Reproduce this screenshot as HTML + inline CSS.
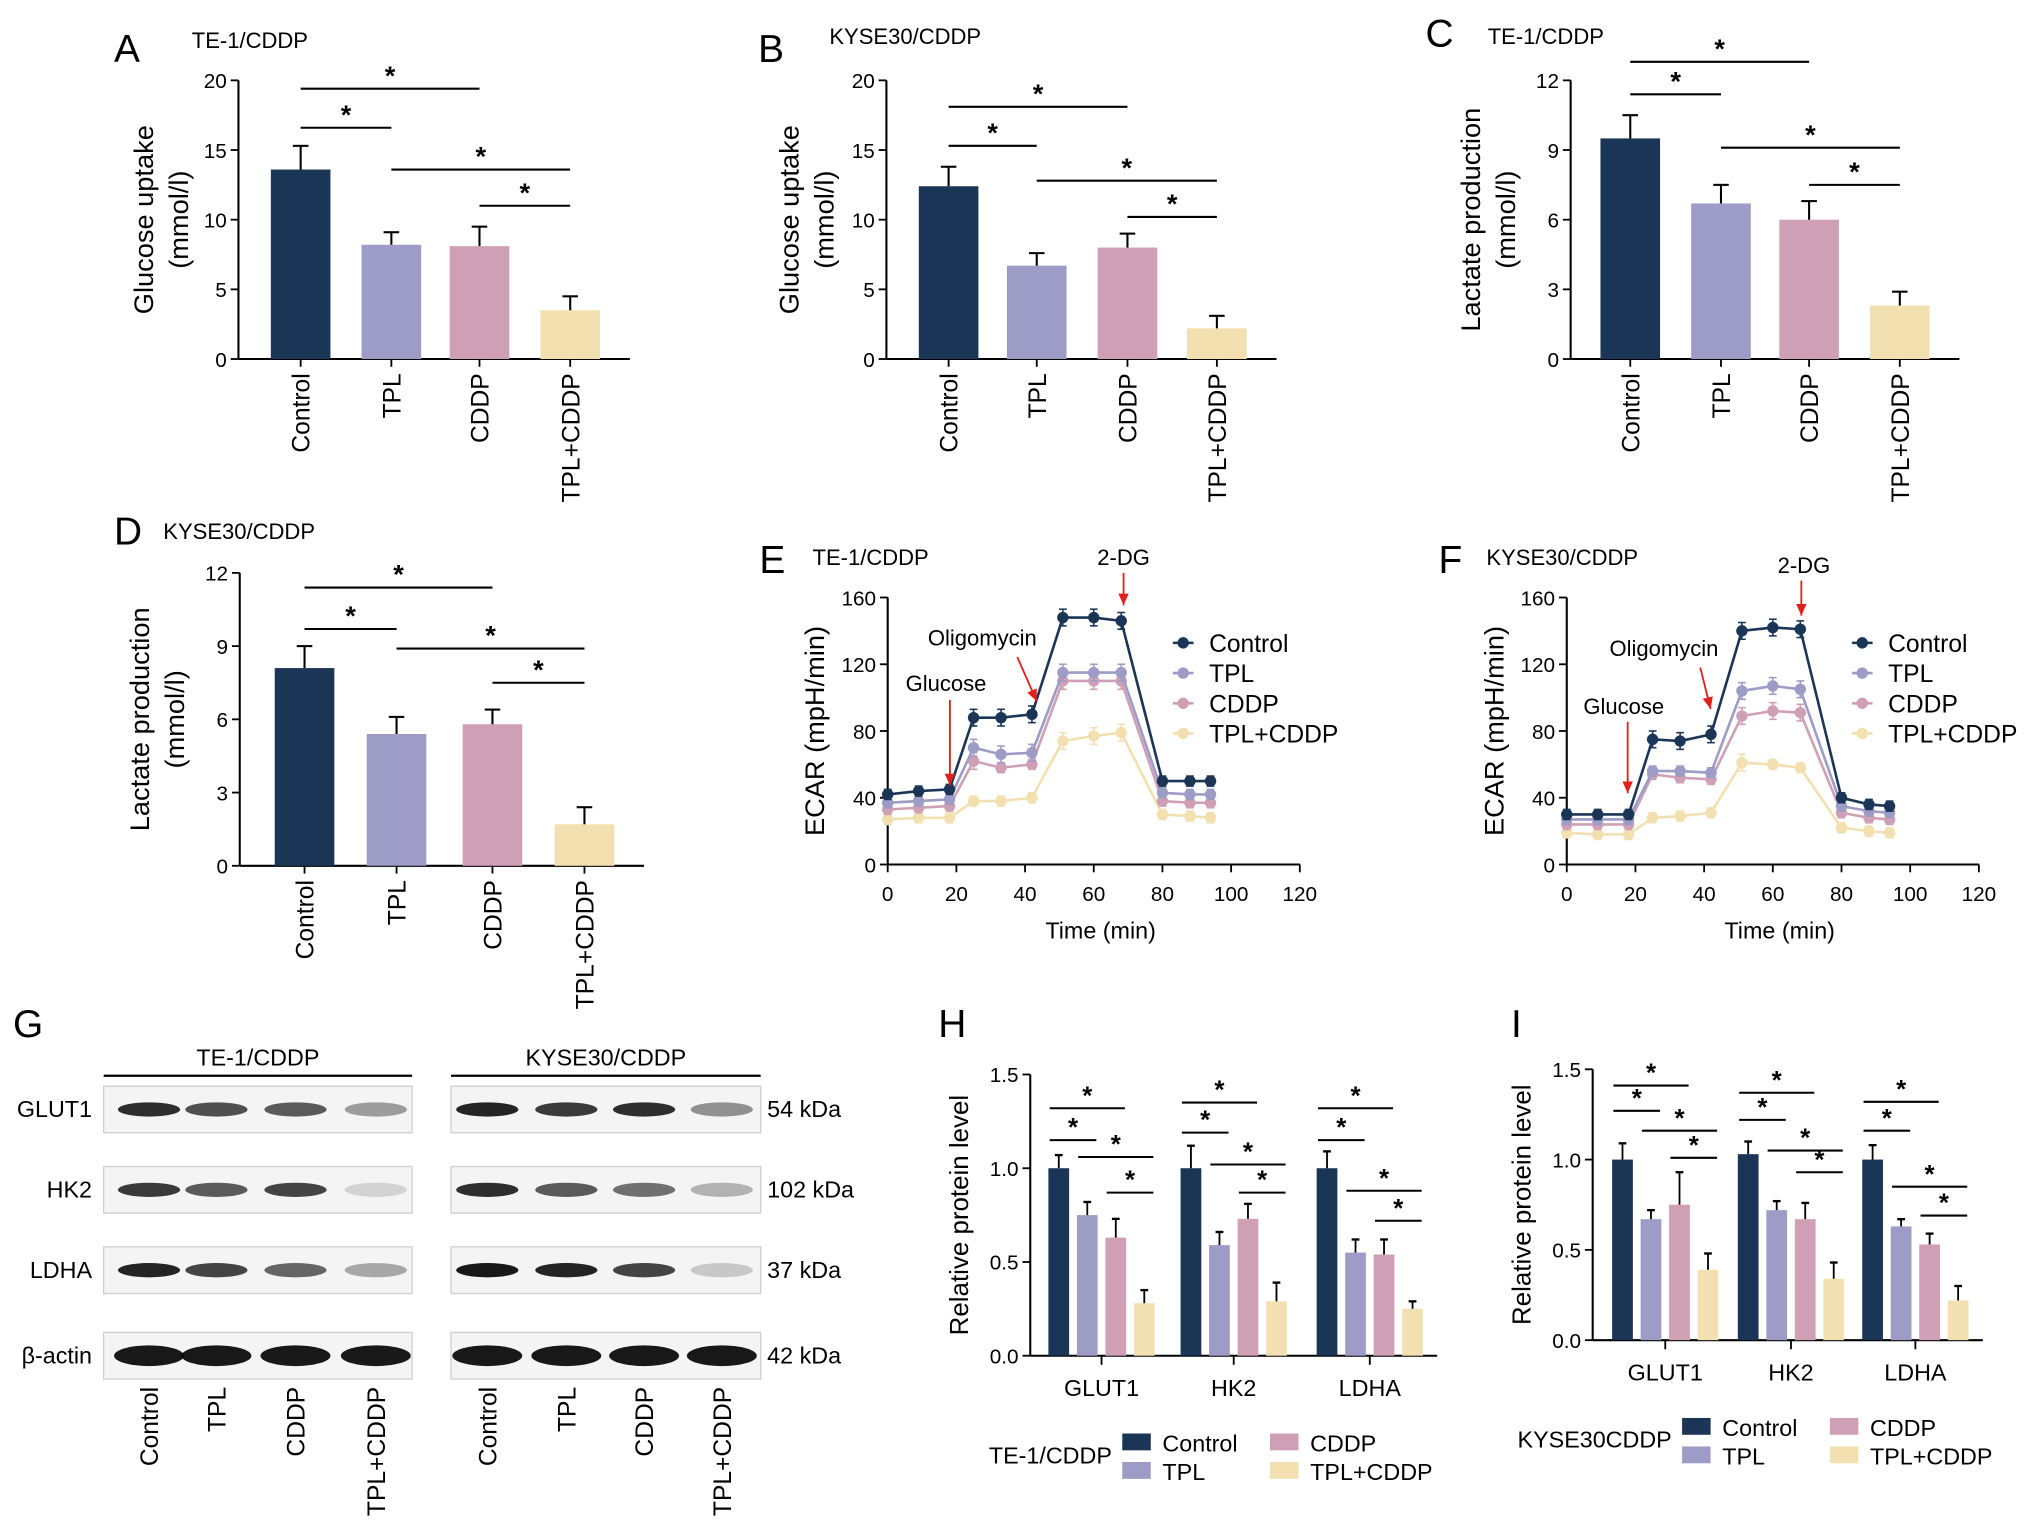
<!DOCTYPE html>
<html><head><meta charset="utf-8"><style>
html,body{margin:0;padding:0;background:#fff;}
svg{display:block;font-family:"Liberation Sans",Arial,sans-serif;}
</style></head><body>
<svg id="fig" width="2032" height="1532" viewBox="0 0 1568 1182" preserveAspectRatio="none" xmlns="http://www.w3.org/2000/svg"></svg>
<script>
const groups=["Control","TPL","CDDP","TPL+CDDP"];
const colors=["#1b3556","#9d9cc6","#cfa0b5","#f3e0b0"];
// Panel A
const aVals=[13.6,8.2,8.1,3.5];
const aErr=[1.7,0.9,1.4,1.0];
const aSig=[[0,2,19.4],[0,1,16.6],[1,3,13.6],[2,3,11.0]];
// Panel B
const bVals=[12.4,6.7,8.0,2.2];
const bErr=[1.4,0.9,1.0,0.9];
const bSig=[[0,2,18.1],[0,1,15.3],[1,3,12.8],[2,3,10.2]];
// Panel C
const cVals=[9.5,6.7,6.0,2.3];
const cErr=[1.0,0.8,0.8,0.6];
const cSig=[[0,2,12.8],[0,1,11.4],[1,3,9.1],[2,3,7.5]];
// Panel D
const dVals=[8.1,5.4,5.8,1.7];
const dErr=[0.9,0.7,0.6,0.7];
const dSig=[[0,2,11.4],[0,1,9.7],[1,3,8.9],[2,3,7.5]];
// Panels E/F
const times=[0,9,18,25,33,42,51,60,68,80,88,94];
const eControl=[42,44,45,88,88,90,148,148,146,50,50,50];
const eTPL=[37,38,39,70,66,67,115,115,115,43,42,42];
const eCDDP=[33,34,35,62,58,60,110,110,110,38,37,37];
const eCombo=[27,28,28,38,38,40,74,77,79,30,29,28];
const fControl=[30,30,30,75,74,78,140,142,141,40,36,35];
const fTPL=[27,27,27,56,56,55,104,107,105,35,32,31];
const fCDDP=[24,24,24,54,52,51,89,92,91,31,28,27];
const fCombo=[19,18,18,28,29,31,61,60,58,22,20,19];
const ecarTicks=[0,40,80,120,160];
const timeTicks=[0,20,40,60,80,100,120];
// Panels H/I
const proteins=["GLUT1","HK2","LDHA"];
const hVals=[[1.0,0.75,0.63,0.28],[1.0,0.59,0.73,0.29],[1.0,0.55,0.54,0.25]];
const hErr=[[0.07,0.07,0.1,0.07],[0.12,0.07,0.08,0.1],[0.09,0.07,0.08,0.04]];
const hSig=[[1.32,1.15,1.06,0.87],[1.35,1.19,1.02,0.87],[1.32,1.15,0.88,0.72]];
const iVals=[[1.0,0.67,0.75,0.39],[1.03,0.72,0.67,0.34],[1.0,0.63,0.53,0.22]];
const iErr=[[0.09,0.05,0.18,0.09],[0.07,0.05,0.09,0.09],[0.08,0.04,0.06,0.08]];
const iSig=[[1.41,1.27,1.16,1.01],[1.37,1.22,1.05,0.93],[1.32,1.16,0.85,0.69]];
const protTicks=[0,0.5,1.0,1.5];
// Panel G band intensities
const teBands=[[0.9,0.75,0.7,0.4],[0.85,0.7,0.8,0.15],[0.95,0.8,0.65,0.35],[1,1,1,1]];
const kyBands=[[0.95,0.85,0.9,0.45],[0.9,0.7,0.6,0.3],[1,0.95,0.8,0.2],[1,1,1,1]];
const blotRows=["GLUT1","HK2","LDHA","β-actin"];
const kda=["54 kDa","102 kDa","37 kDa","42 kDa"];

const NS="http://www.w3.org/2000/svg";
const svg=document.getElementById('fig');
function el(tag,attrs,parent,txt){const e=document.createElementNS(NS,tag);for(const k in attrs)e.setAttribute(k,attrs[k]);if(txt!==undefined)e.textContent=txt;(parent||svg).appendChild(e);return e;}
function line(x1,y1,x2,y2,p,w){return el('line',{x1,y1,x2,y2,stroke:'#000','stroke-width':w||1.4},p);}

function letter(t,x,y){const e=el('text',{x,y,'font-size':30},svg,t);

}
function title(t,x,y){const e=el('text',{x,y,'font-size':17},svg,t);

}

function barPanel(name,ax,y0,y1,max,ticks,centers,vals,errs,sig,l1,l2,lx){
  const g=el('g',{});
  
  
  const sy=v=>y0-(v/max)*(y0-y1);
  const xEnd=centers[3]+46;
  line(ax,y1,ax,y0,g,1.6);line(ax,y0,xEnd,y0,g,1.6);
  ticks.forEach(t=>{line(ax-6,sy(t),ax,sy(t),g,1.4);
    const tx=el('text',{x:ax-9,y:sy(t)+6,'font-size':16,'text-anchor':'end'},g,String(t));
    
    });
  vals.forEach((v,i)=>{
    const cx=centers[i],w=46;
    const r=el('rect',{x:cx-w/2,y:sy(v),width:w,height:y0-sy(v),fill:colors[i]},g);
    
    
    line(cx,sy(v),cx,sy(v+errs[i]),g,1.6);line(cx-6,sy(v+errs[i]),cx+6,sy(v+errs[i]),g,1.6);
    line(cx,y0,cx,y0+6,g,1.4);
    const t=el('text',{x:0,y:0,'font-size':19,'text-anchor':'end',transform:`translate(${cx+7},${y0+11}) rotate(-90)`},g,groups[i]);
    
    
  });
  sig.forEach(s=>{const a=centers[s[0]],b=centers[s[1]],yy=sy(s[2]);
    line(a,yy,b,yy,g,1.6);
    const st=el('text',{x:(a+b)/2,y:yy-3,'font-size':21,'font-weight':'bold','text-anchor':'middle'},g,'*');
    
    });
  const cy=(y0+y1)/2;
  const t1=el('text',{x:0,y:0,'font-size':21,'text-anchor':'middle',transform:`translate(${lx},${cy}) rotate(-90)`},g,l1);
  
  
  const t2=el('text',{x:0,y:0,'font-size':21,'text-anchor':'middle',transform:`translate(${lx+27},${cy}) rotate(-90)`},g,l2);
  
  
}
letter('A',88,48);title('TE-1/CDDP',148,37);
barPanel('panel-a-chart',184,277,62,20,[0,5,10,15,20],[232,302,370,440],aVals,aErr,aSig,'Glucose uptake','(mmol/l)',118);
letter('B',585,48);title('KYSE30/CDDP',640,34);
barPanel('panel-b-chart',684,277,62,20,[0,5,10,15,20],[732,800,870,939],bVals,bErr,bSig,'Glucose uptake','(mmol/l)',616);
letter('C',1100,36);title('TE-1/CDDP',1148,34);
barPanel('panel-c-chart',1212,277,62,12,[0,3,6,9,12],[1258,1328,1396,1466],cVals,cErr,cSig,'Lactate production','(mmol/l)',1142);
letter('D',88,420);title('KYSE30/CDDP',126,416);
barPanel('panel-d-chart',185,668,442,12,[0,3,6,9,12],[235,306,380,451],dVals,dErr,dSig,'Lactate production','(mmol/l)',115);

function ecarPanel(name,ax,series,arrows){
  const g=el('g',{});
  
  
  const y0=667,y1=461,px=2.65;
  const sx=t=>ax+t*px, sy=v=>y0-v/160*(y0-y1);
  line(ax,y1,ax,y0,g,1.6);line(ax,y0,sx(120),y0,g,1.6);
  ecarTicks.forEach(t=>{line(ax-6,sy(t),ax,sy(t),g);
    const tx=el('text',{x:ax-9,y:sy(t)+6,'font-size':16,'text-anchor':'end'},g,String(t));
    
    });
  timeTicks.forEach(t=>{line(sx(t),y0,sx(t),y0+6,g);
    const tx=el('text',{x:sx(t),y:y0+28,'font-size':16,'text-anchor':'middle'},g,String(t));
    
    });
  const xl=el('text',{x:sx(62),y:724,'font-size':18,'text-anchor':'middle'},g,'Time (min)');
  
  
  const yl=el('text',{x:0,y:0,'font-size':21,'text-anchor':'middle',transform:`translate(${ax-49},564) rotate(-90)`},g,'ECAR (mpH/min)');
  
  
  series.slice().reverse().forEach((s,ri)=>{const i=3-ri;
    const pts=times.map((t,k)=>sx(t)+','+sy(s[k])).join(' ');
    const pl=el('polyline',{points:pts,fill:'none',stroke:colors[i],'stroke-width':2},g);
    
    
    times.forEach((t,k)=>{const ey=(s[k]>60?5:3);
      line(sx(t),sy(s[k]-ey),sx(t),sy(s[k]+ey),g,1.2).setAttribute('stroke',colors[i]);
      line(sx(t)-3,sy(s[k]+ey),sx(t)+3,sy(s[k]+ey),g,1.2).setAttribute('stroke',colors[i]);
      line(sx(t)-3,sy(s[k]-ey),sx(t)+3,sy(s[k]-ey),g,1.2).setAttribute('stroke',colors[i]);
      const c=el('circle',{cx:sx(t),cy:sy(s[k]),r:4.4,fill:colors[i]},g);
      
      });
  });
  const lx=ax+228;
  groups.forEach((gname,i)=>{const yy=496+i*23.3;
    el('line',{x1:lx-8,y1:yy,x2:lx+8,y2:yy,stroke:colors[i],'stroke-width':2},g);
    el('circle',{cx:lx,cy:yy,r:4.4,fill:colors[i]},g);
    const t=el('text',{x:lx+20,y:yy+7,'font-size':19},g,gname);
    
    });
  arrows.forEach(a=>{
    const t=el('text',{x:a[0],y:a[1],'font-size':17,'text-anchor':'middle'},g,a[2]);
    
    
    el('line',{x1:a[3],y1:a[4],x2:a[5],y2:a[6],stroke:'#e0201b','stroke-width':1.4},g);
    const ang=Math.atan2(a[6]-a[4],a[5]-a[3]);const L=9,W=4;
    const bx=a[5]-L*Math.cos(ang),by=a[6]-L*Math.sin(ang);
    el('polygon',{points:`${a[5]},${a[6]} ${bx-W*Math.sin(ang)},${by+W*Math.cos(ang)} ${bx+W*Math.sin(ang)},${by-W*Math.cos(ang)}`,fill:'#e0201b'},g);
  });
}
letter('E',586,442);title('TE-1/CDDP',627,436);
ecarPanel('panel-e-chart',685,[eControl,eTPL,eCDDP,eCombo],
 [[730,533,'Glucose',733,540,733,606],[758,498,'Oligomycin',785,507,800,541],[867,436,'2-DG',867,442,867,467]]);
letter('F',1110,442);title('KYSE30/CDDP',1147,436);
ecarPanel('panel-f-chart',1209,[fControl,fTPL,fCDDP,fCombo],
 [[1253,551,'Glucose',1256,557,1256,612],[1284,506,'Oligomycin',1312,515,1320,547],[1392,442,'2-DG',1390,448,1390,475]]);

// Panel G
letter('G',10,800);
(function(){
  const g=el('g',{});
  
  
  const blocks=[[80,318,'TE-1/CDDP',teBands,[115,167,228,290]],[348,587,'KYSE30/CDDP',kyBands,[376,437,497,557]]];
  const rowsY=[838,900,962,1028];
  blocks.forEach(b=>{
    const t=el('text',{x:(b[0]+b[1])/2,y:822,'font-size':18,'text-anchor':'middle'},g,b[2]);
    
    
    line(b[0],830,b[1],830,g,1.8);
    rowsY.forEach((ry,r)=>{
      const box=el('rect',{x:b[0],y:ry,width:b[1]-b[0],height:36,fill:'#f4f4f4',stroke:'#cfcfcf','stroke-width':1},g);
      
      
      b[3][r].forEach((v,k)=>{
        const band=el('ellipse',{cx:b[4][k],cy:ry+18,rx:r===3?27:24,ry:r===3?8:5.5,fill:'#000','fill-opacity':v*0.9},g);
        
        
      });
    });
    groups.forEach((gn,k)=>{
      const t=el('text',{x:0,y:0,'font-size':19,'text-anchor':'end',transform:`translate(${b[4][k]+7},1070) rotate(-90)`},g,gn);
      
      
    });
  });
  rowsY.forEach((ry,r)=>{
    const t=el('text',{x:71,y:ry+24,'font-size':18,'text-anchor':'end'},g,blotRows[r]);
    
    
    const k=el('text',{x:592,y:ry+24,'font-size':18},g,kda[r]);
    
    
  });
})();

function protPanel(name,ax,y0,y1,centers,vals,errs,sig,legTitle,legX,legY){
  const g=el('g',{});
  
  
  const sy=v=>y0-v/1.5*(y0-y1);
  const offs=[-33,-11,11,33];
  line(ax,y1,ax,y0,g,1.6);line(ax,y0,centers[2]+52,y0,g,1.6);
  protTicks.forEach(t=>{line(ax-6,sy(t),ax,sy(t),g);
    const tx=el('text',{x:ax-9,y:sy(t)+6,'font-size':16,'text-anchor':'end'},g,t.toFixed(1));
    
    });
  const yl=el('text',{x:0,y:0,'font-size':20,'text-anchor':'middle',transform:`translate(${ax-48},${(y0+y1)/2}) rotate(-90)`},g,'Relative protein level');
  
  
  proteins.forEach((p,gi)=>{
    const c=centers[gi];
    line(c,y0,c,y0+7,g);
    const lt=el('text',{x:c,y:y0+31,'font-size':18,'text-anchor':'middle'},g,p);
    
    
    vals[gi].forEach((v,i)=>{
      const x=c+offs[i];
      const r=el('rect',{x:x-8,y:sy(v),width:16,height:y0-sy(v),fill:colors[i]},g);
      
      
      line(x,sy(v),x,sy(v+errs[gi][i]),g,1.4);line(x-3,sy(v+errs[gi][i]),x+3,sy(v+errs[gi][i]),g,1.8);
    });
    const pairs=[[0,2],[0,1],[1,3],[2,3]];
    pairs.forEach((pr,k)=>{const a=c+offs[pr[0]]-7,b=c+offs[pr[1]]+7,yy=sy(sig[gi][k]);
      line(a,yy,b,yy,g,1.6);
      const st=el('text',{x:(a+b)/2,y:yy-3,'font-size':20,'font-weight':'bold','text-anchor':'middle'},g,'*');
      
      });
  });
  const lt=el('text',{x:legX,y:legY+17,'font-size':18,'text-anchor':'end'},g,legTitle);
  
  
  const pos=[[legX+8,legY-6],[legX+8,legY+16],[legX+122,legY-6],[legX+122,legY+16]];
  groups.forEach((gn,i)=>{
    el('rect',{x:pos[i][0],y:pos[i][1],width:22,height:13,fill:colors[i]},g);
    const t=el('text',{x:pos[i][0]+31,y:pos[i][1]+14,'font-size':18},g,gn);
    
    
  });
}
letter('H',724,800);
protPanel('panel-h-chart',795,1046,829,[850,952,1057],hVals,hErr,hSig,'TE-1/CDDP',858,1112);
letter('I',1166,800);
protPanel('panel-i-chart',1229,1034,825,[1285,1382,1478],iVals,iErr,iSig,'KYSE30CDDP',1290,1100);
</script>
</body></html>
